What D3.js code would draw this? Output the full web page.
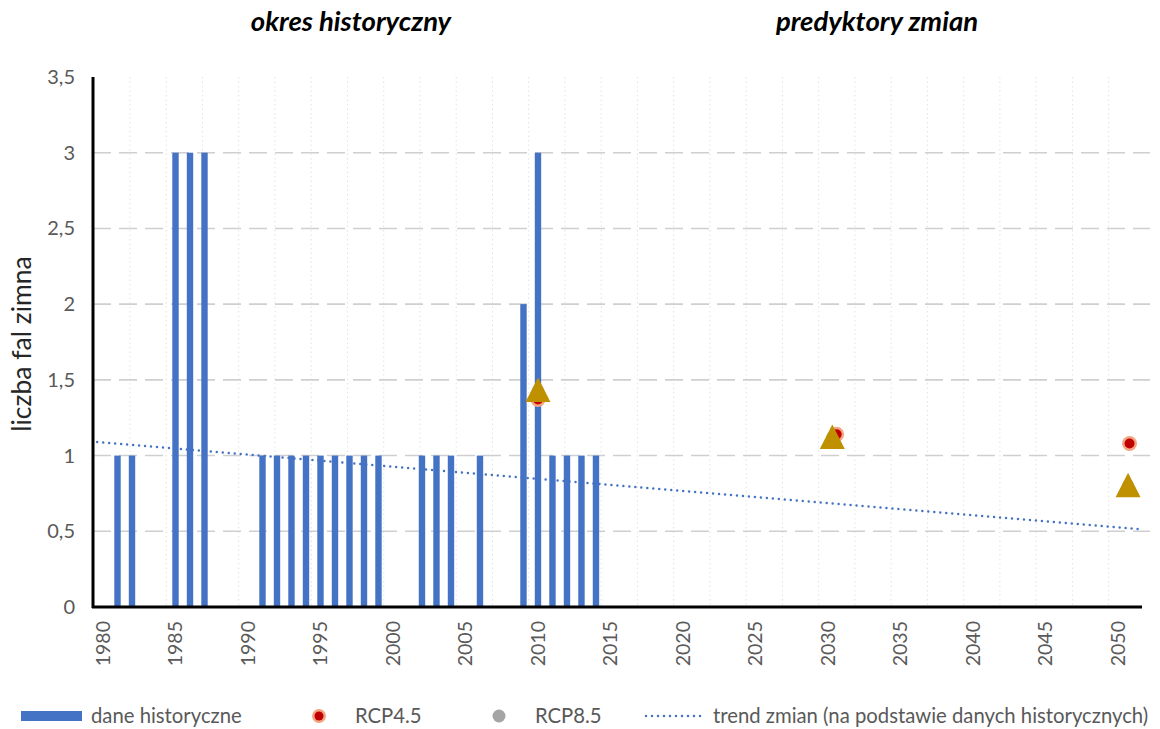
<!DOCTYPE html>
<html>
<head>
<meta charset="utf-8">
<script src="https://cdn.jsdelivr.net/npm/d3@7"></script>
<style>
  body { margin: 0; background: #fff; }
  text { font-family: Lato, "Noto Sans", sans-serif; }
</style>
</head>
<body>
<div id="chart"></div>
<script>
// historical data (years with cold waves)
const histYears = [1981, 1982, 1985, 1986, 1987, 1991, 1992, 1993, 1994, 1995, 1996, 1997, 1998, 1999,
  2002, 2003, 2004, 2006, 2009, 2010, 2011, 2012, 2013, 2014];
const histValues = [1, 1, 3, 3, 3, 1, 1, 1, 1, 1, 1, 1, 1, 1,
  1, 1, 1, 1, 2, 3, 1, 1, 1, 1];

// projections
const rcp45Years = [2010, 2030.6, 2050.8];
const rcp45Values = [1.37, 1.14, 1.08];
const rcp85Years = [2010, 2030.3, 2050.7];
const rcp85Values = [1.43, 1.12, 0.8];
const triYears = [2010, 2030.3, 2050.7];
const triValues = [1.43, 1.12, 0.8];

// trend line ends
const trendYears = [1979.6, 2051.4];
const trendValues = [1.09, 0.515];

const xTicks = [1980, 1985, 1990, 1995, 2000, 2005, 2010, 2015, 2020, 2025, 2030, 2035, 2040, 2045, 2050];
const yTicks = [0, 0.5, 1, 1.5, 2, 2.5, 3, 3.5];

const W = 1160, H = 729;
const svg = d3.select('#chart').append('svg')
  .attr('width', W).attr('height', H);

const x = d3.scaleLinear().domain([1979.31, 2051.66]).range([93, 1142]);
const y = d3.scaleLinear().domain([0, 3.5]).range([607, 77]);

// minor vertical dotted grid
svg.append('g')
  .selectAll('line')
  .data(d3.range(1981.86, 2051.5, 2.5))
  .join('line')
  .attr('x1', d => x(d)).attr('x2', d => x(d))
  .attr('y1', y(3.5)).attr('y2', y(0))
  .attr('stroke', '#e2e2e2').attr('stroke-width', 1)
  .attr('stroke-dasharray', '1.5,3');

// horizontal dashed grid
svg.append('g')
  .selectAll('line')
  .data(yTicks.filter(d => d > 0 && d < 3.5))
  .join('line')
  .attr('x1', 93).attr('x2', 1150)
  .attr('y1', d => y(d)).attr('y2', d => y(d))
  .attr('stroke', '#cfcfcf').attr('stroke-width', 1.6)
  .attr('stroke-dasharray', '18,8');

// bars
svg.append('g')
  .selectAll('rect')
  .data(histYears.map((yr, i) => ({ yr, v: histValues[i] })))
  .join('rect')
  .attr('x', d => x(d.yr) - 3.2)
  .attr('width', 6.4)
  .attr('y', d => y(d.v))
  .attr('height', d => y(0) - y(d.v))
  .attr('fill', '#4472C4');

// trend line
svg.append('path')
  .datum(trendYears.map((yr, i) => [yr, trendValues[i]]))
  .attr('d', d3.line().x(d => x(d[0])).y(d => y(d[1])))
  .attr('fill', 'none')
  .attr('stroke', '#4472C4')
  .attr('stroke-width', 2.5)
  .attr('stroke-linecap', 'round')
  .attr('stroke-dasharray', '0,6');

// RCP8.5 grey points
svg.append('g')
  .selectAll('circle')
  .data(rcp85Years.map((yr, i) => ({ yr, v: rcp85Values[i] })))
  .join('circle')
  .attr('cx', d => x(d.yr)).attr('cy', d => y(d.v))
  .attr('r', 6).attr('fill', '#a5a5a5');

// RCP4.5 red points
const rg = svg.append('g');
const rData = rcp45Years.map((yr, i) => ({ yr, v: rcp45Values[i] }));
rg.selectAll('circle.halo').data(rData).join('circle').attr('class', 'halo')
  .attr('cx', d => x(d.yr)).attr('cy', d => y(d.v))
  .attr('r', 7.5).attr('fill', '#f4a582');
rg.selectAll('circle.core').data(rData).join('circle').attr('class', 'core')
  .attr('cx', d => x(d.yr)).attr('cy', d => y(d.v))
  .attr('r', 5).attr('fill', '#c00000');

// triangles
svg.append('g')
  .selectAll('path')
  .data(triYears.map((yr, i) => ({ yr, v: triValues[i] })))
  .join('path')
  .attr('transform', d => `translate(${x(d.yr)},${y(d.v)})`)
  .attr('d', 'M0,-13L12.5,11.5L-12.5,11.5Z')
  .attr('fill', '#BF9000');

// axes lines
svg.append('line').attr('x1', 93).attr('x2', 93).attr('y1', 77).attr('y2', 608)
  .attr('stroke', '#000').attr('stroke-width', 3);
svg.append('line').attr('x1', 92).attr('x2', 1142).attr('y1', 607).attr('y2', 607)
  .attr('stroke', '#000').attr('stroke-width', 3);

// y tick labels
svg.append('g')
  .selectAll('text')
  .data(yTicks)
  .join('text')
  .attr('x', 75).attr('y', d => y(d))
  .attr('dy', '0.35em')
  .attr('text-anchor', 'end')
  .attr('fill', '#595959')
  .attr('font-size', 20)
  .text(d => d3.format('.1~f')(d).replace('.', ','));

// x tick labels
svg.append('g')
  .selectAll('text')
  .data(xTicks)
  .join('text')
  .attr('transform', d => `translate(${x(d) + 7},621) rotate(-90)`)
  .attr('text-anchor', 'end')
  .attr('fill', '#595959')
  .attr('font-size', 19.5)
  .text(d => d);

// y title
svg.append('text')
  .attr('transform', 'translate(31,344) rotate(-90)')
  .attr('text-anchor', 'middle')
  .attr('font-size', 26.5)
  .attr('fill', '#262626')
  .text('liczba fal zimna');

// section titles
svg.append('text').attr('x', 351).attr('y', 31)
  .attr('text-anchor', 'middle').attr('font-size', 27.5)
  .attr('font-weight', 'bold').attr('font-style', 'italic')
  .text('okres historyczny');
svg.append('text').attr('x', 877).attr('y', 31)
  .attr('text-anchor', 'middle').attr('font-size', 27.5)
  .attr('font-weight', 'bold').attr('font-style', 'italic')
  .text('predyktory zmian');

// legend
const lg = svg.append('g').attr('font-size', 20.3).attr('fill', '#595959');
lg.append('rect').attr('x', 21).attr('y', 711).attr('width', 61).attr('height', 10).attr('fill', '#4472C4');
lg.append('text').attr('x', 91).attr('y', 723).text('dane historyczne');
lg.append('circle').attr('cx', 319).attr('cy', 716).attr('r', 7).attr('fill', '#f4a582');
lg.append('circle').attr('cx', 319).attr('cy', 716).attr('r', 4.5).attr('fill', '#c00000');
lg.append('text').attr('x', 355).attr('y', 723).text('RCP4.5');
lg.append('circle').attr('cx', 499).attr('cy', 716).attr('r', 6.5).attr('fill', '#a5a5a5');
lg.append('text').attr('x', 535).attr('y', 723).text('RCP8.5');
lg.append('line').attr('x1', 646).attr('x2', 705).attr('y1', 716).attr('y2', 716)
  .attr('stroke', '#4472C4').attr('stroke-width', 2.5)
  .attr('stroke-linecap', 'round').attr('stroke-dasharray', '0,6');
lg.append('text').attr('x', 713).attr('y', 723).text('trend zmian (na podstawie danych historycznych)');
</script>
</body>
</html>
